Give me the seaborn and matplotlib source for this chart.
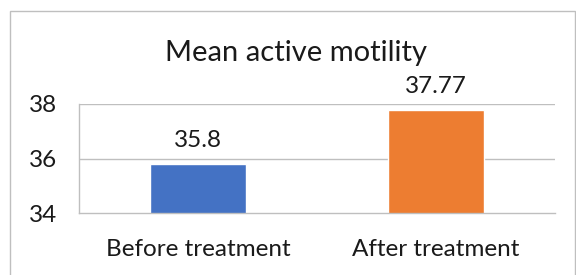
import matplotlib
matplotlib.use("Agg")
import matplotlib.pyplot as plt
import seaborn as sns
import pandas as pd
from matplotlib.patches import Rectangle

categories = ["Before treatment", "After treatment"]
values = [35.8, 37.77]
value_labels = ["35.8", "37.77"]
bar_colors = ["#4472C4", "#ED7D31"]
y_ticks = [34, 36, 38]

sns.set_style("white")
plt.rcParams["font.family"] = ["Lato", "DejaVu Sans"]

df = pd.DataFrame({"group": categories, "value": values})

fig = plt.figure(figsize=(5.76, 2.75), dpi=100)
ax = fig.add_axes([79 / 576, 1 - 213 / 275, (555 - 79) / 576, (213 - 104) / 275])

sns.barplot(data=df, x="group", y="value", hue="group", palette=bar_colors,
            width=0.4, legend=False, ax=ax, saturation=1)

ax.set_ylim(34, 38)
ax.set_xlim(-0.5, 1.5)
ax.set_yticks(y_ticks)
ax.set_xlabel("")
ax.set_ylabel("")

grid_c = "#BFBFBF"
text_c = "#1a1a1a"
for y in y_ticks[1:]:
    ax.axhline(y, color=grid_c, lw=1, zorder=0)
for s in ["top", "right"]:
    ax.spines[s].set_visible(False)
for s in ["left", "bottom"]:
    ax.spines[s].set_color(grid_c)
    ax.spines[s].set_linewidth(1)

ax.tick_params(axis="y", length=7, width=1, labelsize=17.5, pad=9, colors=text_c, direction="out")
ax.tick_params(axis="y", color=grid_c)
ax.tick_params(axis="x", length=0, labelsize=17.5, pad=19, colors=text_c)
ax.set_xticks([-0.5, 0.5, 1.5], minor=True)
ax.tick_params(axis="x", which="minor", length=7, width=1, color=grid_c, direction="out")

for i, (v, lab) in enumerate(zip(values, value_labels)):
    ax.annotate(lab, (i, v), xytext=(0, 17), textcoords="offset points",
                ha="center", va="center", fontsize=17.5, color=text_c,
                annotation_clip=False)

fig.text(296 / 576, 1 - 53 / 275, "Mean active motility", ha="center", va="center",
         fontsize=21, color=text_c)

fig.patches.append(Rectangle((10 / 576, -0.1), (575 - 10) / 576, 1.1 - 11 / 275,
                             transform=fig.transFigure, fill=False,
                             edgecolor="#BFBFBF", lw=1))

fig.savefig("out.png", dpi=100)
